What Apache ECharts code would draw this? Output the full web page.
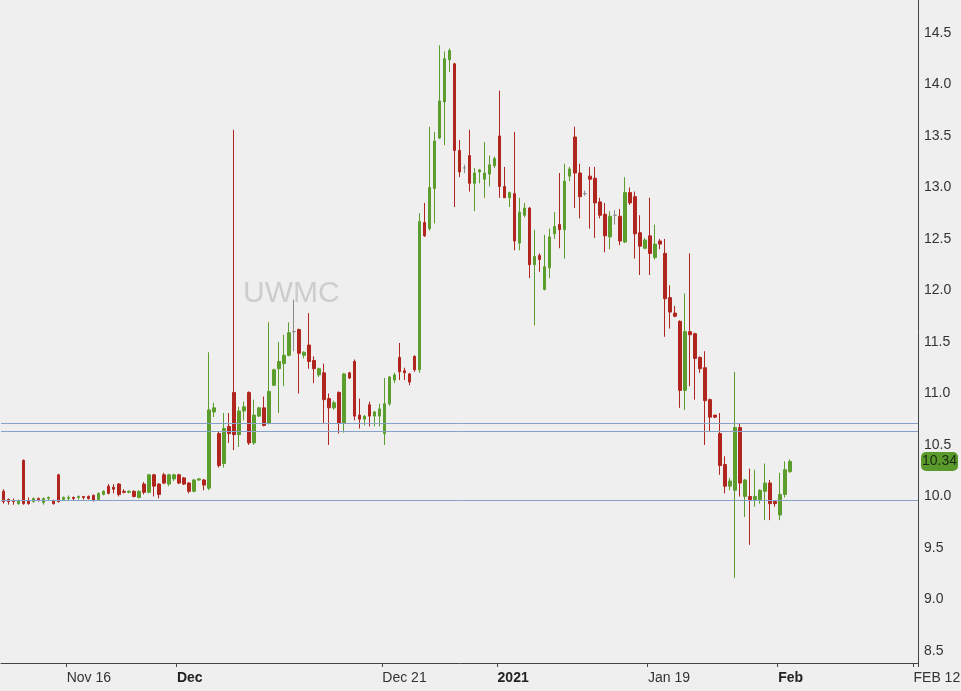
<!DOCTYPE html>
<html>
<head>
<meta charset="utf-8">
<script src="https://cdn.jsdelivr.net/npm/echarts@6/dist/echarts.min.js"></script>
<style>
html,body{margin:0;padding:0;background:#efefef;}
#c{width:961px;height:691px;}
</style>
</head>
<body>
<div id="c"></div>
<script>
// ---- data ----
var opens = [10.05,9.97,9.96,9.93,10.35,9.96,9.95,9.98,9.94,9.98,9.96,10.21,9.97,9.98,9.99,9.99,10.0,10.0,10.01,9.97,
10.02,10.1,10.09,10.12,10.05,10.04,10.05,9.99,10.12,10.04,10.21,10.12,10.21,10.12,10.17,10.21,10.18,10.13,10.05,10.16,
10.16,10.08,10.82,10.61,10.32,10.68,11.01,10.60,10.83,11.01,10.52,10.78,10.86,10.71,11.08,11.24,11.29,11.37,11.60,11.62,
11.37,11.47,11.32,11.18,11.20,10.95,10.86,11.01,10.71,11.20,11.31,10.79,10.75,10.89,10.78,10.78,10.61,10.90,11.13,11.35,
11.22,11.19,11.36,11.23,12.66,12.60,12.99,13.48,13.83,14.24,14.20,13.36,13.19,13.31,13.04,13.15,13.08,13.13,13.21,13.50,
13.01,12.90,12.94,12.46,12.73,12.80,12.25,12.34,12.01,12.22,12.55,12.64,12.59,13.11,13.49,13.14,12.94,13.11,13.09,12.86,
12.74,12.52,12.73,12.72,12.47,12.95,12.91,12.56,12.41,12.53,12.32,12.48,12.36,11.93,11.78,11.70,11.03,11.60,11.58,11.35,
11.25,10.94,10.79,10.61,10.31,10.10,10.06,10.67,10.00,10.00,9.97,9.97,10.05,10.13,9.95,9.82,10.02,10.24];
var closes = [9.95,9.95,9.95,9.96,9.93,9.93,9.98,9.97,9.98,9.99,9.93,9.95,9.99,9.99,9.98,10.0,9.99,9.98,9.96,10.03,
10.05,10.03,10.07,10.02,10.04,10.05,10.0,10.05,10.04,10.21,10.1,10.02,10.13,10.21,10.21,10.13,10.12,10.05,10.16,10.17,
10.11,10.84,10.86,10.30,10.66,10.61,10.60,10.83,10.87,10.52,10.79,10.86,10.69,11.02,11.23,11.31,11.37,11.59,11.60,11.39,
11.40,11.31,11.24,11.24,10.94,10.86,10.91,10.71,11.19,11.15,10.78,10.75,10.78,10.78,10.82,10.85,10.90,11.16,11.18,11.21,
11.20,11.11,11.23,12.67,12.53,13.00,13.45,13.84,14.25,14.33,13.36,13.15,13.19,13.04,13.14,13.17,13.14,13.22,13.28,13.01,
12.90,12.95,12.48,12.76,12.80,12.25,12.33,12.30,12.23,12.52,12.62,12.59,13.06,13.18,13.14,12.91,12.94,13.08,12.85,12.73,
12.53,12.72,12.73,12.48,12.95,12.85,12.55,12.43,12.49,12.36,12.45,12.45,11.92,11.79,11.75,11.03,11.60,11.57,11.34,11.24,
10.93,10.77,10.77,10.30,10.10,10.15,10.67,10.13,10.16,9.97,10.00,10.06,10.13,9.93,9.93,10.02,10.26,10.34];
var lows = [9.93,9.92,9.92,9.92,9.92,9.92,9.94,9.95,9.92,9.96,9.92,9.94,9.96,9.96,9.96,9.97,9.97,9.97,9.95,9.96,
10.01,10.02,10.03,10.0,10.03,10.03,9.99,9.98,10.02,10.03,10.0,9.98,10.12,10.1,10.15,10.12,10.11,10.03,10.04,10.15,
10.06,10.06,10.77,10.28,10.28,10.52,10.45,10.48,10.74,10.50,10.50,10.77,10.68,10.70,11.07,10.81,11.07,11.36,11.41,11.00,
11.34,11.24,11.10,11.16,10.71,10.50,10.84,10.61,10.62,11.14,10.74,10.66,10.69,10.68,10.68,10.68,10.50,10.88,11.10,11.13,
11.13,11.08,11.21,11.20,12.52,12.58,12.65,13.47,13.41,14.12,12.81,13.10,13.14,12.96,12.77,13.04,12.90,13.01,13.19,12.90,
12.90,12.81,12.39,12.39,12.71,12.12,11.66,12.18,12.00,12.12,12.50,12.41,12.31,13.06,12.80,12.70,12.92,12.60,12.51,12.70,
12.37,12.40,12.64,12.44,12.46,12.83,12.31,12.15,12.40,12.15,12.30,12.40,11.55,11.63,11.74,10.86,10.84,11.07,10.94,11.20,
10.50,10.63,10.76,10.21,10.03,10.06,9.21,10.00,9.80,9.53,9.90,9.93,9.77,9.77,9.90,9.77,9.99,10.23];
var highs = [10.07,9.98,9.98,9.97,10.36,9.99,9.99,9.99,9.99,10.0,9.97,10.22,10.0,10.01,10.0,10.01,10.0,10.01,10.02,10.04,
10.06,10.12,10.12,10.13,10.07,10.06,10.06,10.06,10.14,10.22,10.22,10.13,10.23,10.22,10.22,10.22,10.19,10.14,10.17,10.18,
10.17,11.40,10.91,10.63,10.81,10.81,13.56,10.87,10.92,11.02,10.94,10.87,10.97,11.69,11.24,11.50,11.57,11.69,11.91,11.63,
11.41,11.78,11.36,11.25,11.29,11.00,10.93,11.02,11.20,11.21,11.33,10.95,10.79,10.92,10.83,10.90,11.15,11.17,11.20,11.49,
11.25,11.20,11.37,12.75,12.85,13.59,13.54,14.38,14.32,14.35,14.21,13.46,13.22,13.56,13.19,13.18,13.44,13.31,13.30,13.94,
13.20,12.96,13.54,12.90,12.85,12.81,12.59,12.36,12.54,12.60,12.76,13.14,13.23,13.20,13.59,13.23,12.97,13.20,13.20,12.90,
12.85,12.77,12.78,12.79,13.10,13.00,12.96,12.73,12.51,12.90,12.64,12.50,12.50,12.05,11.85,11.71,11.97,12.36,11.59,11.36,
11.41,10.95,10.79,10.81,10.39,10.18,11.21,10.71,10.17,10.27,10.26,10.07,10.32,10.16,9.96,10.23,10.34,10.36];

var levelLines = [10.708, 10.631, 9.961];
var lastPrice = 10.34;
var yTicks = [8.5, 9.0, 9.5, 10.0, 10.5, 11.0, 11.5, 12.0, 12.5, 13.0, 13.5, 14.0, 14.5];
var slotCount = 183;
var xTickIdx  = [13, 35, 76, 99, 129, 155, 182];
var xTickText = ['Nov 16', 'Dec', 'Dec 21', '2021', 'Jan 19', 'Feb', 'FEB 12'];
var xTickBold = [false, true, false, true, false, true, false];
var symbol = 'UWMC';

// ---- build ----
var cats = [];
for (var i = 0; i < slotCount; i++) cats.push('');
var boldMap = {};
xTickIdx.forEach(function (k, j) { cats[k] = xTickText[j]; boldMap[xTickText[j]] = xTickBold[j]; });
var ohlc = opens.map(function (o, i) { return [o, closes[i], lows[i], highs[i]]; });

var UP = '#5c9e2e', DOWN = '#b0251d', LVL = '#86a2c8';
var FONT = '"Liberation Sans", Arial, sans-serif';
var chart = echarts.init(document.getElementById('c'), null, {renderer: 'canvas'});
chart.setOption({
  animation: false,
  backgroundColor: '#efefef',
  grid: {left: 1, right: 43, top: 0, bottom: 28, containLabel: false, outerBoundsMode: 'none'},
  graphic: [{
    type: 'text', left: 243, top: 279, z: 0, silent: true,
    style: {text: symbol, font: '30px ' + FONT, fill: '#cdcdcd'}
  }],
  xAxis: {
    type: 'category', data: cats, boundaryGap: true,
    axisLine: {show: true, lineStyle: {color: '#444', width: 1}},
    axisTick: {show: true, length: 4, interval: function (idx, v) { return v !== ''; }, lineStyle: {color: '#444'}},
    axisLabel: {
      interval: function (idx, v) { return v !== ''; },
      align: 'left', margin: 8, color: '#333', fontSize: 14, fontFamily: FONT,
      padding: [0, 0, 0, -2],
      formatter: function (v) { return boldMap[v] ? '{b|' + v + '}' : v; },
      rich: {b: {fontWeight: 'bold', fontSize: 14, color: '#222', fontFamily: FONT}}
    },
    splitLine: {show: false}
  },
  yAxis: {
    type: 'value', position: 'right', min: 8.383, max: 14.82, scale: true,
    axisLine: {show: true, lineStyle: {color: '#444', width: 1}},
    axisTick: {show: false},
    splitLine: {show: false},
    axisLabel: {
      customValues: yTicks, margin: 6, color: '#333', fontSize: 14, fontFamily: FONT,
      formatter: function (v) { return v.toFixed(1); }
    }
  },
  series: [{
    type: 'candlestick', data: ohlc, barWidth: 3, z: 2,
    itemStyle: {
      color: UP, color0: DOWN, borderColor: UP, borderColor0: DOWN,
      borderColorDoji: '#8a8a8a', borderWidth: 1
    },
    markLine: {
      silent: true, symbol: ['none', 'none'], animation: false,
      lineStyle: {color: LVL, width: 1, type: 'solid', opacity: 1},
      label: {show: false},
      data: levelLines.map(function (v) {
        return {yAxis: v};
      })
    }
  }, {
    type: 'line', data: [], z: 5,
    markLine: {
      silent: true, symbol: ['none', 'none'], animation: false,
      lineStyle: {color: 'rgba(0,0,0,0)', width: 0},
      data: [{
        yAxis: lastPrice,
        label: {
          show: true, position: 'end', distance: 3,
          formatter: function () { return lastPrice.toFixed(2); },
          backgroundColor: '#5a9a2c', borderRadius: 5, padding: [3, 1, 2, 1],
          color: '#1b2a10', fontSize: 14, fontFamily: FONT
        }
      }]
    }
  }]
});
</script>
</body>
</html>
